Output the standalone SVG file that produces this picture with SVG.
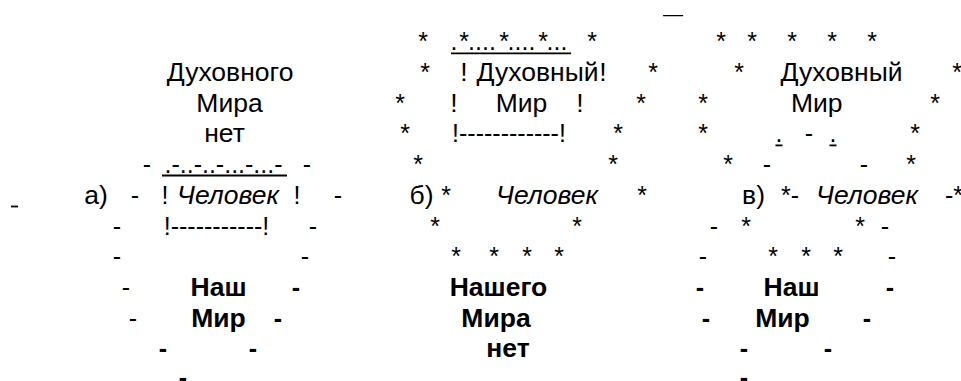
<svg xmlns="http://www.w3.org/2000/svg" width="961" height="381" viewBox="0 0 961 381">
<style>
text{font-family:"Liberation Sans",Arial,sans-serif;font-size:25px;fill:#000;text-anchor:middle}
.w{font-size:26.5px}
.i{font-style:italic}
.b{font-weight:bold}
.u{stroke:#000;stroke-width:1.8}
</style>
<rect width="961" height="381" fill="#fff"/>
<g id="top">
<text x="673" y="21" style="font-size:20px">—</text>
</g>
<g id="fig-a">
<text class="w" x="230" y="81">Духовного</text>
<text class="w" x="229.5" y="111.7">Мира</text>
<text class="w" x="224.5" y="142.4">нет</text>
<text x="147" y="173">-</text>
<text x="223.5" y="173">.-..-..-...-...-</text>
<line class="u" x1="162" y1="175.5" x2="287" y2="175.5"/>
<text x="307" y="173">-</text>
<line class="u" x1="11" y1="206.5" x2="18" y2="206.5"/>
<text class="w" x="96" y="203.8">а)</text>
<text x="135" y="203.8">-</text>
<text x="165" y="203.8">!</text>
<text class="w i" x="228" y="203.8">Человек</text>
<text x="297" y="203.8">!</text>
<text x="338" y="203.8">-</text>
<text x="117" y="234.5">-</text>
<text x="216.5" y="234.5">!-----------!</text>
<text x="313" y="234.5">-</text>
<text x="117" y="265">-</text>
<text x="305" y="265">-</text>
<text x="126" y="296">-</text>
<text class="w b" x="218.5" y="296">Наш</text>
<text class="b" x="296" y="296">-</text>
<text x="133" y="326.6">-</text>
<text class="w b" x="218.5" y="326.6">Мир</text>
<text class="b" x="278" y="326.6">-</text>
<text class="b" x="163" y="357">-</text>
<text class="b" x="253" y="357">-</text>
<text class="b" x="183" y="386">-</text>
</g>
<g id="fig-b">
<text x="423" y="50.3">*</text>
<text x="464" y="50.3">*</text>
<text x="504" y="50.3">*</text>
<text x="543" y="50.3">*</text>
<text x="592" y="50.3">*</text>
<text x="454" y="50.3">.</text>
<text x="482" y="50.3">....</text>
<text x="521.5" y="50.3">....</text>
<text x="557" y="50.3">...</text>
<line class="u" x1="451" y1="53.3" x2="571" y2="53.3"/>
<text x="425" y="81">*</text>
<text class="w" x="464" y="81">!</text>
<text class="w" x="537.5" y="81">Духовный</text>
<text class="w" x="603" y="81">!</text>
<text x="653" y="81">*</text>
<text x="400" y="111.7">*</text>
<text class="w" x="454" y="111.7">!</text>
<text class="w" x="521.5" y="111.7">Мир</text>
<text class="w" x="580" y="111.7">!</text>
<text x="641" y="111.7">*</text>
<text x="405" y="142.4">*</text>
<text x="509" y="142.4">!------------!</text>
<text x="618" y="142.4">*</text>
<text x="418" y="173">*</text>
<text x="613" y="173">*</text>
<text class="w" x="421.5" y="203.8">б)</text>
<text x="446" y="203.8">*</text>
<text class="w i" x="547" y="203.8">Человек</text>
<text x="642" y="203.8">*</text>
<text x="435" y="234.5">*</text>
<text x="577" y="234.5">*</text>
<text x="456" y="265">*</text>
<text x="494" y="265">*</text>
<text x="527" y="265">*</text>
<text x="559" y="265">*</text>
<text class="w b" x="498.5" y="296">Нашего</text>
<text class="w b" x="496" y="326.6">Мира</text>
<text class="w b" x="508" y="357">нет</text>
</g>
<g id="fig-c">
<text x="721" y="50.3">*</text>
<text x="752" y="50.3">*</text>
<text x="792" y="50.3">*</text>
<text x="832" y="50.3">*</text>
<text x="872" y="50.3">*</text>
<text x="739" y="81">*</text>
<text class="w" x="841.5" y="81">Духовный</text>
<text x="957" y="81">*</text>
<text x="703" y="111.7">*</text>
<text class="w" x="816.7" y="111.7">Мир</text>
<text x="935" y="111.7">*</text>
<text x="703" y="142.4">*</text>
<text x="779" y="142.4">.</text>
<line class="u" x1="775.5" y1="145.4" x2="782.5" y2="145.4"/>
<text x="809" y="142.4">-</text>
<text x="833" y="142.4">.</text>
<line class="u" x1="829.5" y1="145.4" x2="836.5" y2="145.4"/>
<text x="915" y="142.4">*</text>
<text x="728" y="173">*</text>
<text x="767" y="173">-</text>
<text x="864" y="173">-</text>
<text x="911" y="173">*</text>
<text class="w" x="753.5" y="203.8">в)</text>
<text x="790" y="203.8">*-</text>
<text class="w i" x="867" y="203.8">Человек</text>
<text x="954" y="203.8">-*</text>
<text x="714" y="234.5">-</text>
<text x="746" y="234.5">*</text>
<text x="860" y="234.5">*</text>
<text x="885" y="234.5">-</text>
<text x="703" y="265">-</text>
<text x="773" y="265">*</text>
<text x="806" y="265">*</text>
<text x="838" y="265">*</text>
<text x="892" y="265">-</text>
<text class="b" x="700" y="296">-</text>
<text class="w b" x="791.5" y="296">Наш</text>
<text class="b" x="890" y="296">-</text>
<text class="b" x="706" y="326.6">-</text>
<text class="w b" x="782.5" y="326.6">Мир</text>
<text class="b" x="867" y="326.6">-</text>
<text class="b" x="744" y="357">-</text>
<text class="b" x="828" y="357">-</text>
<text class="b" x="744" y="386">-</text>
</g>
</svg>
